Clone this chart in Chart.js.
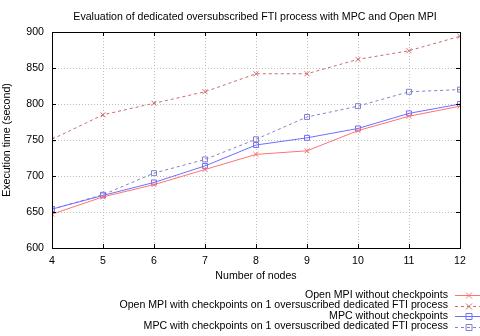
<!DOCTYPE html>
<html>
<head>
<meta charset="utf-8">
<script src="https://cdn.jsdelivr.net/npm/chart.js@4/dist/chart.umd.min.js"></script>
<style>
  html, body { margin: 0; padding: 0; background: #fff; }
  #wrap { width: 480px; height: 336px; }
</style>
</head>
<body>
<div id="wrap"><canvas id="FtiChart" width="480" height="336"></canvas></div>
<script>
const Nodes = [4, 5, 6, 7, 8, 9, 10, 11, 12];
const OpenMpiNoCkpt = [647, 671, 688, 709, 730, 735, 763, 783, 797];
const OpenMpiCkpt = [751, 785, 801, 817, 842, 842, 862, 874, 894];
const MpcNoCkpt = [654, 673, 691, 714, 743, 753, 766, 787, 800];
const MpcCkpt = [654, 674, 704, 723, 751, 782, 797, 817, 820];
const SeriesLabels = [
    "Open MPI without checkpoints",
    "Open MPI with checkpoints on 1 oversuscribed dedicated FTI process",
    "MPC without checkpoints",
    "MPC with checkpoints on 1 oversuscribed dedicated FTI process"
];
const YTicks = [600, 650, 700, 750, 800, 850, 900];
const TitleText = 'Evaluation of dedicated oversubscribed FTI process with MPC and Open MPI';

const FontName = "'Liberation Sans', Arial, sans-serif";
const FontSize = 10.6;

function toPoints(values) {
    return values.map((v, i) => ({ x: Nodes[i], y: v }));
}

// dotted grid behind the lines
const gridPlugin = {
    id: 'dottedGrid',
    beforeDatasetsDraw(chart) {
        const { ctx, chartArea: a, scales } = chart;
        ctx.save();
        ctx.strokeStyle = '#bdbdbd';
        ctx.lineWidth = 1;
        ctx.setLineDash([1, 2]);
        ctx.beginPath();
        for (let n of Nodes.slice(1, -1)) {
            let x = Math.round(scales.x.getPixelForValue(n)) + 0.5;
            ctx.moveTo(x, a.top); ctx.lineTo(x, a.bottom);
        }
        for (let t of YTicks.slice(1, -1)) {
            let y = Math.round(scales.y.getPixelForValue(t)) + 0.5;
            ctx.moveTo(a.left, y); ctx.lineTo(a.right, y);
        }
        ctx.stroke();
        ctx.restore();
    }
};

// gnuplot-ish frame: full border + inward tick marks, plus title
const framePlugin = {
    id: 'frame',
    afterDatasetsDraw(chart) {
        const { ctx, chartArea: a, scales } = chart;
        ctx.save();
        ctx.strokeStyle = '#000';
        ctx.lineWidth = 1;
        ctx.strokeRect(a.left + 0.5, a.top + 0.5, a.right - a.left, a.bottom - a.top);
        ctx.beginPath();
        for (let n of Nodes) {
            let x = Math.round(scales.x.getPixelForValue(n)) + 0.5;
            ctx.moveTo(x, a.bottom); ctx.lineTo(x, a.bottom - 4);
            ctx.moveTo(x, a.top); ctx.lineTo(x, a.top + 4);
        }
        for (let t of YTicks) {
            let y = Math.round(scales.y.getPixelForValue(t)) + 0.5;
            ctx.moveTo(a.left, y); ctx.lineTo(a.left + 4, y);
            ctx.moveTo(a.right, y); ctx.lineTo(a.right - 4, y);
        }
        ctx.stroke();

        ctx.fillStyle = '#000';
        ctx.font = FontSize + 'px ' + FontName;
        ctx.textAlign = 'center';
        ctx.textBaseline = 'middle';
        ctx.fillText(TitleText, 255, 17);
        ctx.restore();
    }
};

// legend under the plot, text right-aligned with sample on the right
const keyPlugin = {
    id: 'key',
    afterDraw(chart) {
        const ctx = chart.ctx;
        const rowY = [295, 305.5, 316, 326.5];
        ctx.save();
        ctx.font = FontSize + 'px ' + FontName;
        ctx.textAlign = 'right';
        ctx.textBaseline = 'middle';
        chart.data.datasets.forEach((ds, i) => {
            let y = rowY[i];
            ctx.fillStyle = '#000';
            ctx.fillText(ds.label, 448, y);
            ctx.strokeStyle = ds.borderColor;
            ctx.lineWidth = 1;
            ctx.setLineDash(ds.borderDash || []);
            ctx.beginPath();
            ctx.moveTo(455, Math.round(y) + 0.5);
            ctx.lineTo(480, Math.round(y) + 0.5);
            ctx.stroke();
            ctx.setLineDash([]);
            let mx = 469, my = Math.round(y) + 0.5;
            ctx.beginPath();
            if (ds.pointStyle === 'crossRot') {
                ctx.moveTo(mx - 3, my - 3); ctx.lineTo(mx + 3, my + 3);
                ctx.moveTo(mx - 3, my + 3); ctx.lineTo(mx + 3, my - 3);
            } else {
                ctx.rect(mx - 3, my - 3, 6, 6);
            }
            ctx.stroke();
        });
        ctx.restore();
    }
};

function makeDataset(label, values, color, dashed, marker) {
    return {
        label: label,
        data: toPoints(values),
        borderColor: color,
        backgroundColor: 'rgba(0,0,0,0)',
        borderWidth: 1,
        borderDash: dashed ? [3, 3] : [],
        pointStyle: marker,
        pointRadius: 3.5,
        pointBorderWidth: 1,
        pointBorderColor: color,
        pointBackgroundColor: 'rgba(0,0,0,0)',
        tension: 0
    };
}

new Chart(document.getElementById('FtiChart'), {
    type: 'line',
    data: {
        datasets: [
            makeDataset(SeriesLabels[0], OpenMpiNoCkpt, '#ff7272', false, 'crossRot'),
            makeDataset(SeriesLabels[1], OpenMpiCkpt, '#cc6a6a', true, 'crossRot'),
            makeDataset(SeriesLabels[2], MpcNoCkpt, '#6f6fff', false, 'rect'),
            makeDataset(SeriesLabels[3], MpcCkpt, '#8080cc', true, 'rect')
        ]
    },
    options: {
        responsive: false,
        animation: false,
        devicePixelRatio: 1,
        layout: { padding: { top: 32, right: 20, bottom: 52, left: 0 } },
        plugins: {
            legend: { display: false },
            tooltip: { enabled: false },
            title: { display: false }
        },
        scales: {
            x: {
                type: 'linear',
                min: 4, max: 12,
                afterFit: s => { s.height = 36; },
                afterBuildTicks: s => { s.ticks = Nodes.map(v => ({ value: v })); },
                grid: { display: false, drawTicks: false },
                border: { display: false },
                ticks: { color: '#000', padding: 7, font: { family: FontName, size: FontSize } },
                title: {
                    display: true, text: 'Number of nodes', color: '#000',
                    font: { family: FontName, size: FontSize }, padding: { top: 0, bottom: 2 }
                }
            },
            y: {
                min: 600, max: 900,
                afterFit: s => { s.width = 52; },
                afterBuildTicks: s => { s.ticks = YTicks.map(v => ({ value: v })); },
                grid: { display: false, drawTicks: false },
                border: { display: false },
                ticks: { color: '#000', padding: 8, font: { family: FontName, size: FontSize } },
                title: {
                    display: true, text: 'Execution time (second)', color: '#000',
                    font: { family: FontName, size: FontSize }, padding: { top: 1, bottom: 0 }
                }
            }
        }
    },
    plugins: [gridPlugin, framePlugin, keyPlugin]
});
</script>
</body>
</html>
